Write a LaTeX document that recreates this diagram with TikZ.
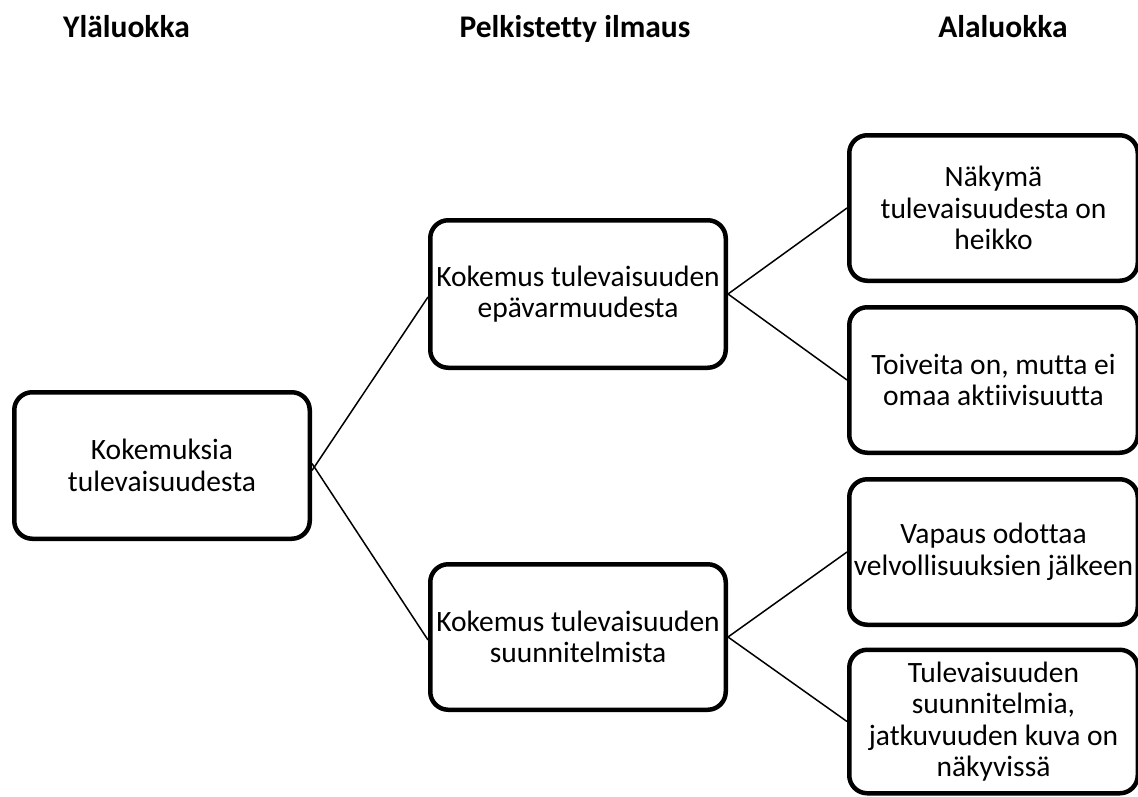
\documentclass[tikz,border=0pt]{standalone}
\usepackage{fontspec}
\setmainfont{Carlito}[Ligatures=NoCommon]
\begin{document}
\begin{tikzpicture}[x=1pt,y=-1pt,
  box/.style={draw=black, line width=4.5pt, rounded corners=18pt, align=center,
    inner sep=0pt, font=\fontsize{29.5}{31.5}\selectfont},
  wbox/.style={box, minimum width=295.5pt, minimum height=146pt},
  title/.style={font=\fontsize{31.5}{34}\selectfont\bfseries, anchor=base, inner sep=0pt},
  link/.style={line width=1.5pt}]
\useasboundingbox (0,0) rectangle (1138,796);
\fill[white] (0,0) rectangle (1138,796);
\node[title] (t1) at (126.5,37) {Yläluokka};
\node[title] (t2) at (575,37) {Pelkistetty ilmaus};
\node[title] (t3) at (1003,37) {Alaluokka};

\node[wbox, minimum height=146.5pt] (A) at (162,465.5) {Kokemuksia\\tulevaisuudesta};
\node[wbox, minimum height=147.5pt] (B) at (578,294) {Kokemus tulevaisuuden\\epävarmuudesta};
\node[wbox, minimum height=145.5pt] (C) at (578,637) {Kokemus tulevaisuuden\\suunnitelmista};

\node[box, minimum width=288.5pt, minimum height=145.5pt] (D1) at (993.5,208) {Näkymä\\tulevaisuudesta on\\heikko};
\node[box, minimum width=288.5pt, minimum height=145.5pt] (D2) at (993.5,380) {Toiveita on, mutta ei\\omaa aktiivisuutta};
\node[box, minimum width=288.5pt, minimum height=145.5pt] (D3) at (993.5,552) {Vapaus odottaa\\velvollisuuksien jälkeen};
\node[box, minimum width=288.5pt, minimum height=143.5pt] (D4) at (993.5,721.5) {Tulevaisuuden\\suunnitelmia,\\jatkuvuuden kuva on\\näkyvissä};

\draw[link] ([yshift=-5pt]A.east) -- ([yshift=-3pt]B.west);
\draw[link] ([yshift=2pt]A.east) -- ([yshift=-3pt]C.west);
\draw[link] (B.east) -- (D1.west);
\draw[link] (B.east) -- (D2.west);
\draw[link] (C.east) -- (D3.west);
\draw[link] (C.east) -- (D4.west);
\end{tikzpicture}
\end{document}
